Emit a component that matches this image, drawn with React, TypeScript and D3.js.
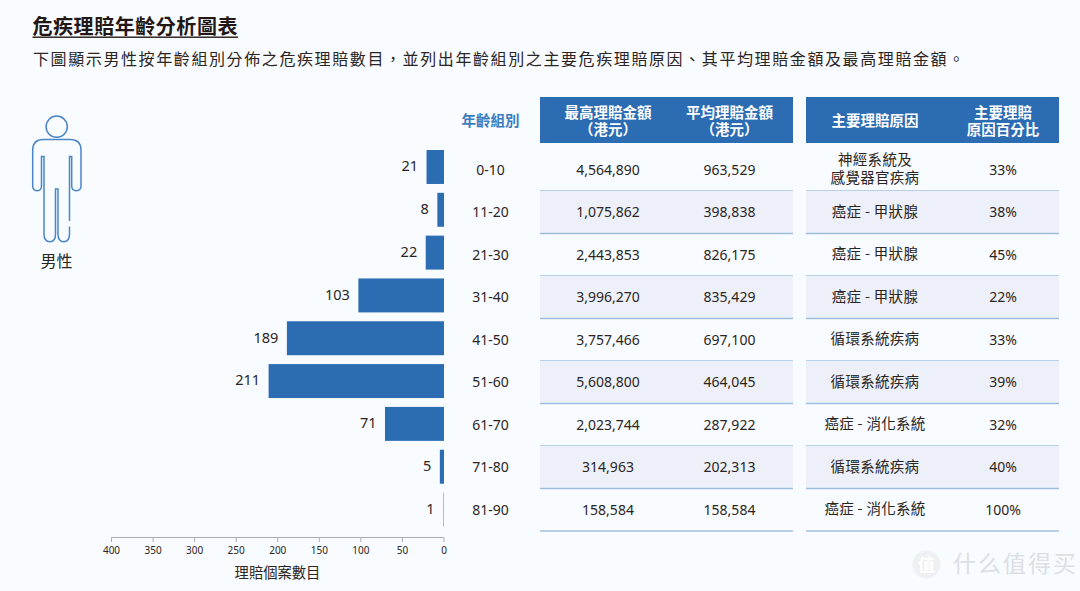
import React from "react";
import * as d3 from "d3";

const ageGroups = ["0-10", "11-20", "21-30", "31-40", "41-50", "51-60", "61-70", "71-80", "81-90"];
const claimCounts = [21, 8, 22, 103, 189, 211, 71, 5, 1];
const maxClaims = ["4,564,890", "1,075,862", "2,443,853", "3,996,270", "3,757,466", "5,608,800", "2,023,744", "314,963", "158,584"];
const avgClaims = ["963,529", "398,838", "826,175", "835,429", "697,100", "464,045", "287,922", "202,313", "158,584"];
const mainCauses = [["神經系統及", "感覺器官疾病"], ["癌症 - 甲狀腺"], ["癌症 - 甲狀腺"], ["癌症 - 甲狀腺"], ["循環系統疾病"], ["循環系統疾病"], ["癌症 - 消化系統"], ["循環系統疾病"], ["癌症 - 消化系統"]];
const causeShares = ["33%", "38%", "45%", "22%", "33%", "39%", "32%", "40%", "100%"];
const axisTicks = [400, 350, 300, 250, 200, 150, 100, 50, 0];

const FONT = "'Noto Sans CJK TC', 'Noto Sans', sans-serif";
const LATIN = "'Noto Sans', 'Noto Sans CJK TC', sans-serif";
const BLUE = "#2b6cb3";
const INK = "#2b2522";
const LINE = "#9dbcdd";

const x = d3.scaleLinear().domain([0, 400]).range([444, 111.5]);
const barY = d3.scaleBand<string>().domain(ageGroups).range([150, 526.5]).paddingInner(0.207).paddingOuter(0);
const rowY = d3.scaleBand<string>().domain(ageGroups).range([148.5, 531]);

const person = "M69.5 221 V156.5 H71.7 V186 Q71.7 190.7 76.3 190.7 Q81 190.7 81 186 V150 Q81 139.5 70 139.5 H43.5 Q32.7 139.5 32.7 150 V186 Q32.7 190.7 37.2 190.7 Q41.5 190.7 41.5 186 V156.5 H44 V234 Q44 241.7 50 241.7 Q55.5 241.7 55.5 234 V189 H58 V234 Q58 241.7 63.7 241.7 Q69.5 241.7 69.5 234 V226.5";

export default function App() {
  return (
    <svg width={1080} height={591} viewBox="0 0 1080 591" style={{ position: "absolute", left: 0, top: 0, background: "#f8fbff" }} fontFamily={FONT}>
      <text x={32.5} y={34} fontSize={20} fontWeight={700} fill="#231815" letterSpacing={0.55}>危疾理賠年齡分析圖表</text>
      <rect x={32.5} y={36.5} width={205.5} height={1.4} fill="#231815" />
      <text x={33} y={64.5} fontSize={16} fill={INK} letterSpacing={1.6}>下圖顯示男性按年齡組別分佈之危疾理賠數目，並列出年齡組別之主要危疾理賠原因、其平均理賠金額及最高理賠金額。</text>

      <circle cx={56.7} cy={126.7} r={10.6} fill="none" stroke="#4a86c6" strokeWidth={1.5} />
      <path d={person} fill="none" stroke="#4a86c6" strokeWidth={1.5} />
      <text x={56.5} y={266.5} fontSize={16} textAnchor="middle" fill={INK}>男性</text>

      <text x={490.5} y={126} fontSize={14.5} fontWeight={700} textAnchor="middle" fill="#3a7cc0">年齡組別</text>

      <rect x={540} y={97} width={253} height={46} fill={BLUE} />
      <rect x={806} y={97} width={253} height={46} fill={BLUE} />
      <g fill="#fff" fontSize={14.5} fontWeight={700} textAnchor="middle">
        <text x={608} y={118}>最高理賠金額</text>
        <text x={608} y={135}>（港元）</text>
        <text x={729.5} y={118}>平均理賠金額</text>
        <text x={729.5} y={135}>（港元）</text>
        <text x={875} y={126}>主要理賠原因</text>
        <text x={1003} y={118}>主要理賠</text>
        <text x={1003} y={135}>原因百分比</text>
      </g>

      {ageGroups.map((g, i) => {
        const y0 = rowY(g)!;
        const h = rowY.bandwidth();
        const cy = y0 + h / 2 + 1.2;
        return (
          <g key={g}>
            {i % 2 === 1 && <rect x={540} y={y0} width={253} height={h} fill="#edf0f9" />}
            {i % 2 === 1 && <rect x={806} y={y0} width={253} height={h} fill="#edf0f9" />}
            <rect x={540} y={y0 + h - 0.7} width={253} height={1.4} fill={LINE} />
            <rect x={806} y={y0 + h - 0.7} width={253} height={1.4} fill={LINE} />
            <rect x={x(claimCounts[i])} y={barY(g)!} width={x(0) - x(claimCounts[i])} height={barY.bandwidth()} fill={claimCounts[i] === 1 ? "#8fb3da" : BLUE} />
            <text x={x(claimCounts[i]) - 8.5} y={barY(g)! + barY.bandwidth() / 2 + 0.5} fontSize={14.5} fontFamily={LATIN} textAnchor="end" dominantBaseline="middle" fill={INK}>{claimCounts[i]}</text>
            <g fontSize={14} fontFamily={LATIN} textAnchor="middle" fill={INK} dominantBaseline="middle">
              <text x={490.5} y={cy}>{g}</text>
              <text x={608} y={cy}>{maxClaims[i]}</text>
              <text x={729.5} y={cy}>{avgClaims[i]}</text>
              <text x={1003} y={cy}>{causeShares[i]}</text>
            </g>
            {mainCauses[i].map((line, j) => (
              <text key={j} x={875} y={cy - 0.8 + (j - (mainCauses[i].length - 1) / 2) * 17.5} fontSize={14.5} letterSpacing={0.3} textAnchor="middle" dominantBaseline="middle" fill={INK}>{line}</text>
            ))}
          </g>
        );
      })}

      <line x1={x(400)} x2={x(0)} y1={537.5} y2={537.5} stroke="#a6adb5" strokeWidth={1} />
      {axisTicks.map((t) => (
        <g key={t}>
          <line x1={x(t)} x2={x(t)} y1={537.5} y2={542} stroke="#a6adb5" strokeWidth={1} />
          <text x={x(t)} y={554} fontSize={10} fontFamily={LATIN} textAnchor="middle" fill={INK}>{t}</text>
        </g>
      ))}
      <text x={277.5} y={577.5} fontSize={14.3} textAnchor="middle" fill={INK}>理賠個案數目</text>

      <circle cx={926.5} cy={564.5} r={14} fill="#ececec" opacity={0.75} />
      <text x={926.5} y={570.5} fontSize={17} textAnchor="middle" fill="#fff" fontWeight={700}>值</text>
      <text x={953} y={572} fontSize={23} fill="#dcdfe3" letterSpacing={2}>什么值得买</text>
    </svg>
  );
}
